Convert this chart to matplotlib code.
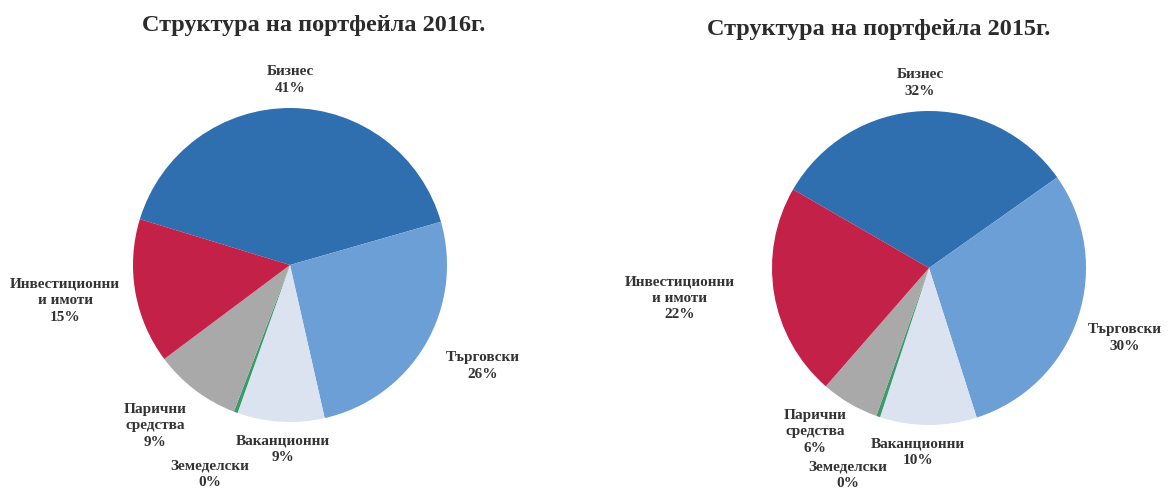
import matplotlib.pyplot as plt

# Data
categories = ["Бизнес", "Търговски", "Ваканционни", "Земеделски", "Парични\nсредства", "Инвестиционни\nи имоти"]
shares_2016 = [41, 26, 9, 0.4, 9, 15]
shares_2015 = [32, 30, 10, 0.4, 6, 22]
pct_2016 = ["41%", "26%", "9%", "0%", "9%", "15%"]
pct_2015 = ["32%", "30%", "10%", "0%", "6%", "22%"]

colors = ["#2F6EAF", "#6C9FD6", "#DCE3F0", "#3A9A6A", "#A9A9A9", "#C32148"]
text_color = "#333333"

W, H = 1169, 492
fig = plt.figure(figsize=(W / 100, H / 100), dpi=100)

# label centres in pixels (layout only)
label_pos_2016 = [(290, 80), (483, 366), (283, 449), (210, 474), (155, 426), (65, 301)]
label_pos_2015 = [(920, 83), (1125, 338), (918, 452), (848, 475), (815, 432), (680, 298)]


def draw_pie(cx, cy, r, values, pct, start, label_pos, title, title_xy):
    ax = fig.add_axes([(cx - r) / W, (H - cy - r) / H, 2 * r / W, 2 * r / H])
    ax.pie(values, colors=colors, startangle=start, counterclock=False,
           wedgeprops=dict(linewidth=0))
    ax.set_xlim(-1, 1)
    ax.set_ylim(-1, 1)
    ax.set_aspect("equal")
    ax.axis("off")
    for name, p, (px, py) in zip(categories, pct, label_pos):
        fig.text(px / W, 1 - py / H, name + "\n" + p, ha="center", va="center",
                 fontsize=11, fontweight="bold", family="Liberation Serif",
                 color=text_color, linespacing=1.35)
    fig.text(title_xy[0] / W, 1 - title_xy[1] / H, title, ha="center", va="center",
             fontsize=17.5, fontweight="bold", family="Liberation Serif", color="#2b2b2b")


draw_pie(290, 265, 157, shares_2016, pct_2016, 163, label_pos_2016,
         "Структура на портфейла 2016г.", (314, 25))
draw_pie(929, 268, 157, shares_2015, pct_2015, 150, label_pos_2015,
         "Структура на портфейла 2015г.", (879, 30))

fig.savefig("out.png", dpi=100)
